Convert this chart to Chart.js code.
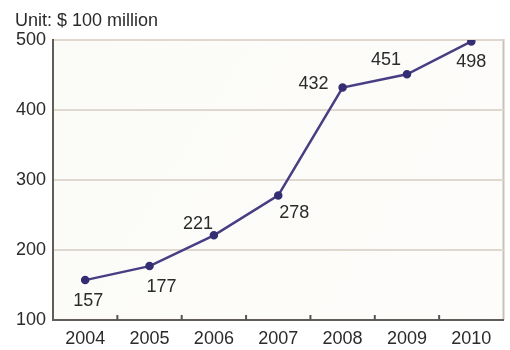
<!DOCTYPE html>
<html>
<head>
<meta charset="utf-8">
<script src="https://cdn.jsdelivr.net/npm/chart.js@4/dist/chart.umd.min.js"></script>
<style>
  html, body { margin: 0; padding: 0; background: #fff; }
  #wrap { width: 510px; height: 350px; }
</style>
</head>
<body>
<div id="wrap"><canvas id="salesChart" width="510" height="350"></canvas></div>
<script>
// Chart data
const years = ['2004', '2005', '2006', '2007', '2008', '2009', '2010'];
const values = [157, 177, 221, 278, 432, 451, 498];
const yTicks = [100, 200, 300, 400, 500];

// where each value label sits relative to its point (dx, dy)
const labelOffsets = [[3, 21], [12, 21], [-16, -11], [16, 18], [-29, -4], [-21, -14], [0, 21]];

const FONT = '"Liberation Sans", Arial, sans-serif';
const TEXT = '#2b2b2b';

// plot background and light top/right frame
const plotFrame = {
  id: 'plotFrame',
  beforeDraw(chart) {
    const { ctx, chartArea: a } = chart;
    ctx.save();
    const g = ctx.createLinearGradient(a.left, a.top, a.right, a.bottom);
    g.addColorStop(0, '#fbfbf8');
    g.addColorStop(1, '#fdfcfa');
    ctx.fillStyle = g;
    ctx.fillRect(a.left, a.top, a.right - a.left, a.bottom - a.top);
    ctx.strokeStyle = '#c8c1ba';
    ctx.lineWidth = 2;
    ctx.beginPath();
    ctx.moveTo(a.left, a.top);
    ctx.lineTo(a.right, a.top);
    ctx.lineTo(a.right, a.bottom);
    ctx.stroke();
    ctx.restore();
  },
  afterDraw(chart) {
    const { ctx, chartArea: a } = chart;
    const x = chart.scales.x;
    ctx.save();
    // small tick marks between categories
    ctx.strokeStyle = '#555';
    ctx.lineWidth = 2;
    for (let i = 0; i < years.length - 1; i++) {
      const px = (x.getPixelForValue(i) + x.getPixelForValue(i + 1)) / 2;
      ctx.beginPath();
      ctx.moveTo(px, a.bottom);
      ctx.lineTo(px, a.bottom - 5);
      ctx.stroke();
    }
    // unit caption
    ctx.fillStyle = TEXT;
    ctx.font = '18px ' + FONT;
    ctx.textAlign = 'left';
    ctx.textBaseline = 'middle';
    ctx.fillText('Unit: $ 100 million', 15, 21);
    ctx.restore();
  }
};

// value labels next to the points
const valueLabels = {
  id: 'valueLabels',
  afterDatasetsDraw(chart) {
    const { ctx } = chart;
    const meta = chart.getDatasetMeta(0);
    ctx.save();
    ctx.fillStyle = TEXT;
    ctx.font = '18px ' + FONT;
    ctx.textAlign = 'center';
    ctx.textBaseline = 'middle';
    meta.data.forEach((pt, i) => {
      const [dx, dy] = labelOffsets[i];
      ctx.fillText(String(values[i]), pt.x + dx, pt.y + dy);
    });
    ctx.restore();
  }
};

new Chart(document.getElementById('salesChart'), {
  type: 'line',
  data: {
    labels: years,
    datasets: [{
      data: values,
      borderColor: '#473e84',
      borderWidth: 2.5,
      pointBackgroundColor: '#342d72',
      pointBorderColor: '#342d72',
      pointRadius: 3,
      tension: 0
    }]
  },
  options: {
    responsive: false,
    animation: false,
    layout: { padding: { top: 40, right: 2, left: 0, bottom: 0 } },
    plugins: {
      legend: { display: false },
      tooltip: { enabled: false }
    },
    scales: {
      x: {
        offset: true,
        grid: { display: false, drawTicks: false },
        border: { color: '#635d5a', width: 2 },
        ticks: { color: TEXT, font: { family: FONT, size: 18 }, padding: 8, maxRotation: 0 },
        afterFit(s) { s.height = 30; }
      },
      y: {
        min: 100,
        max: 500,
        afterBuildTicks(s) { s.ticks = yTicks.map(v => ({ value: v })); },
        grid: { color: '#e0d7ce', lineWidth: 2, drawTicks: false },
        border: { color: '#635d5a', width: 2 },
        ticks: { color: TEXT, font: { family: FONT, size: 18 }, padding: 7 },
        afterFit(s) { s.width = 53; }
      }
    }
  },
  plugins: [plotFrame, valueLabels]
});
</script>
</body>
</html>
